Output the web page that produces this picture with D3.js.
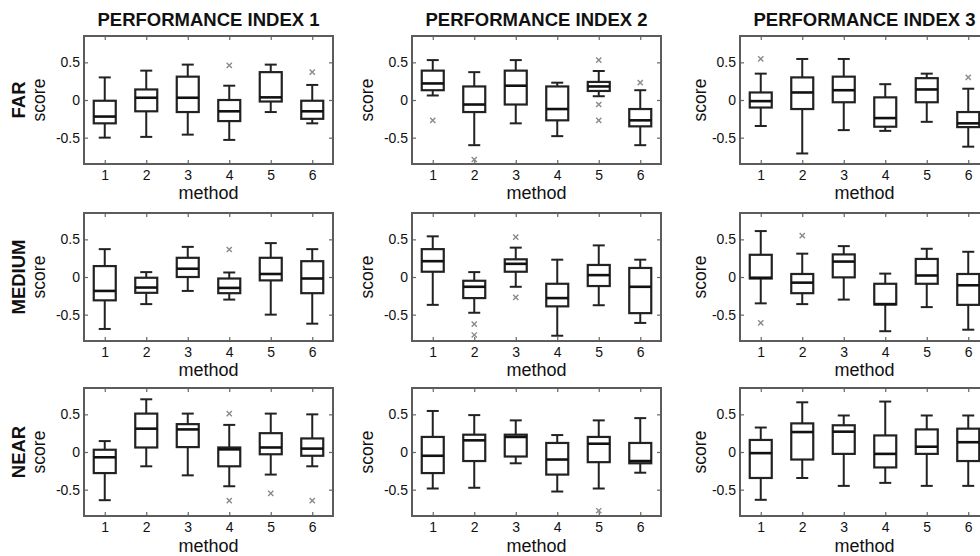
<!DOCTYPE html>
<html>
<head>
<meta charset="utf-8">
<script src="https://cdn.jsdelivr.net/npm/d3@7/dist/d3.min.js"></script>
<style>
  html, body { margin: 0; padding: 0; background: #fff; }
  svg { display: block; font-family: "Liberation Sans", Arial, Helvetica, sans-serif; }
</style>
</head>
<body>
<svg id="chart" width="980" height="556"></svg>
<script>
// ---------- DATA ----------
const methods = [1, 2, 3, 4, 5, 6];
const rowLabels = ["FAR", "MEDIUM", "NEAR"];
const colTitles = ["PERFORMANCE INDEX 1", "PERFORMANCE INDEX 2", "PERFORMANCE INDEX 3"];
const yTicks = [-0.5, 0, 0.5];

// each entry: [lower whisker, q1, median, q3, upper whisker] per method
const farPI1 = [[-0.50,-0.31,-0.22,-0.01,0.30],[-0.49,-0.15,0.03,0.14,0.39],[-0.46,-0.16,0.03,0.31,0.47],[-0.53,-0.28,-0.15,0.00,0.19],[-0.16,-0.02,0.035,0.37,0.47],[-0.31,-0.25,-0.15,-0.01,0.20]];
const farPI2 = [[0.06,0.13,0.22,0.39,0.53],[-0.60,-0.16,-0.06,0.18,0.37],[-0.31,-0.06,0.19,0.39,0.53],[-0.48,-0.27,-0.12,0.18,0.23],[0.05,0.12,0.18,0.24,0.385],[-0.60,-0.35,-0.27,-0.12,0.13]];
const farPI3 = [[-0.345,-0.10,-0.015,0.10,0.35],[-0.71,-0.12,0.10,0.30,0.545],[-0.40,-0.03,0.13,0.31,0.545],[-0.41,-0.355,-0.24,0.035,0.21],[-0.29,-0.03,0.14,0.29,0.35],[-0.62,-0.36,-0.31,-0.16,0.15]];
const medPI1 = [[-0.69,-0.31,-0.185,0.145,0.37],[-0.36,-0.21,-0.14,-0.01,0.065],[-0.185,0.0,0.11,0.255,0.40],[-0.30,-0.215,-0.145,-0.02,0.06],[-0.50,-0.045,0.04,0.255,0.45],[-0.62,-0.215,-0.02,0.21,0.37]];
const medPI2 = [[-0.37,0.07,0.21,0.37,0.54],[-0.475,-0.28,-0.13,-0.05,0.065],[-0.13,0.07,0.175,0.235,0.39],[-0.78,-0.39,-0.28,-0.09,0.23],[-0.375,-0.12,0.025,0.16,0.42],[-0.61,-0.48,-0.13,0.12,0.23]];
const medPI3 = [[-0.35,-0.02,-0.01,0.295,0.61],[-0.36,-0.215,-0.075,0.04,0.31],[-0.30,-0.005,0.205,0.30,0.41],[-0.72,-0.365,-0.36,-0.09,0.045],[-0.40,-0.09,0.02,0.24,0.375],[-0.70,-0.37,-0.11,0.04,0.335]];
const nearPI1 = [[-0.64,-0.28,-0.07,0.03,0.145],[-0.19,0.06,0.31,0.51,0.70],[-0.31,0.065,0.30,0.37,0.51],[-0.455,-0.19,0.035,0.06,0.36],[-0.30,-0.03,0.06,0.25,0.51],[-0.19,-0.05,0.045,0.18,0.50]];
const nearPI2 = [[-0.485,-0.28,-0.05,0.20,0.545],[-0.475,-0.12,0.155,0.23,0.49],[-0.15,-0.06,0.20,0.23,0.42],[-0.525,-0.30,-0.10,0.12,0.225],[-0.485,-0.135,0.11,0.20,0.42],[-0.275,-0.15,-0.12,0.12,0.45]];
const nearPI3 = [[-0.635,-0.345,-0.015,0.16,0.325],[-0.345,-0.10,0.265,0.38,0.66],[-0.45,-0.025,0.27,0.355,0.485],[-0.41,-0.205,-0.025,0.22,0.67],[-0.45,-0.025,0.07,0.30,0.485],[-0.45,-0.12,0.13,0.31,0.485]];

// outliers per method
const farPI1Out = [[],[],[],[0.46],[],[0.37]];
const farPI2Out = [[-0.27],[-0.79],[],[],[0.53,-0.06,-0.27],[0.23]];
const farPI3Out = [[0.545],[],[],[],[],[0.30]];
const medPI1Out = [[],[],[],[0.365],[],[]];
const medPI2Out = [[],[-0.625,-0.77],[0.53,-0.27],[],[],[]];
const medPI3Out = [[-0.61],[0.55],[],[],[],[]];
const nearPI1Out = [[],[],[],[0.51,-0.645],[-0.55],[-0.645]];
const nearPI2Out = [[],[],[],[],[-0.78],[]];
const nearPI3Out = [[],[],[],[],[],[]];

const stats = [[farPI1, farPI2, farPI3],[medPI1, medPI2, medPI3],[nearPI1, nearPI2, nearPI3]];
const outliers = [[farPI1Out, farPI2Out, farPI3Out],[medPI1Out, medPI2Out, medPI3Out],[nearPI1Out, nearPI2Out, nearPI3Out]];

// ---------- LAYOUT ----------
const colLeft = [84, 412, 740];
const rowTop = [36, 213, 388];
const xlabelOffset = [35, 35, 36];
const plotW = 249, plotH = 128;
const ylabelOffset = [39, 39.5, 34.5];
const boxW = 22, capW = 12;

const svg = d3.select("#chart");
svg.append("rect").attr("width", 980).attr("height", 556).attr("fill", "#fff");

const x = d3.scaleLinear().domain([0.5, 6.5]).range([0, plotW]);
const y = d3.scaleLinear().domain([-0.85, 0.85]).range([plotH, 0]);
const fmt = d => d === 0 ? "0" : String(d);

for (let r = 0; r < 3; r++) {
  for (let c = 0; c < 3; c++) {
    const g = svg.append("g").attr("transform", `translate(${colLeft[c]},${rowTop[r]})`);

    // axes with inward ticks
    const axB = g.append("g").attr("transform", `translate(0,${plotH})`)
      .call(d3.axisBottom(x).tickValues(methods).tickSizeInner(-4).tickSizeOuter(0).tickPadding(6).tickFormat(d3.format("d")));
    const axT = g.append("g")
      .call(d3.axisTop(x).tickValues(methods).tickSizeInner(-4).tickSizeOuter(0).tickFormat(""));
    const axL = g.append("g")
      .call(d3.axisLeft(y).tickValues(yTicks).tickSizeInner(-4).tickSizeOuter(0).tickPadding(4).tickFormat(fmt));
    const axR = g.append("g").attr("transform", `translate(${plotW},0)`)
      .call(d3.axisRight(y).tickValues(yTicks).tickSizeInner(-4).tickSizeOuter(0).tickFormat(""));
    [axB, axT, axL, axR].forEach(a => {
      a.select(".domain").remove();
      a.selectAll(".tick line").attr("stroke", "#666").attr("stroke-width", 1.2);
      a.selectAll("text").attr("font-size", 14).attr("fill", "#111")
        .attr("font-family", '"Liberation Sans", Arial, sans-serif');
    });

    // frame
    g.append("rect").attr("x", 0).attr("y", 0).attr("width", plotW).attr("height", plotH)
      .attr("fill", "none").attr("stroke", "#5c5c5c").attr("stroke-width", 2);

    const data = stats[r][c];
    const outs = outliers[r][c];
    const items = g.selectAll(".bx").data(data).enter().append("g").attr("class", "bx")
      .attr("transform", (d, i) => `translate(${x(methods[i])},0)`);

    const stroke = "#222";
    // whiskers
    items.append("line").attr("x1", 0).attr("x2", 0).attr("y1", d => y(d[3])).attr("y2", d => y(d[4]))
      .attr("stroke", stroke).attr("stroke-width", 2);
    items.append("line").attr("x1", 0).attr("x2", 0).attr("y1", d => y(d[0])).attr("y2", d => y(d[1]))
      .attr("stroke", stroke).attr("stroke-width", 2);
    // caps
    items.append("line").attr("x1", -capW / 2).attr("x2", capW / 2).attr("y1", d => y(d[4])).attr("y2", d => y(d[4]))
      .attr("stroke", stroke).attr("stroke-width", 2);
    items.append("line").attr("x1", -capW / 2).attr("x2", capW / 2).attr("y1", d => y(d[0])).attr("y2", d => y(d[0]))
      .attr("stroke", stroke).attr("stroke-width", 2);
    // box
    items.append("rect").attr("x", -boxW / 2).attr("width", boxW)
      .attr("y", d => y(d[3])).attr("height", d => y(d[1]) - y(d[3]))
      .attr("fill", "#fff").attr("stroke", stroke).attr("stroke-width", 2.2);
    // median
    items.append("line").attr("x1", -boxW / 2).attr("x2", boxW / 2).attr("y1", d => y(d[2])).attr("y2", d => y(d[2]))
      .attr("stroke", "#111").attr("stroke-width", 2.6);

    // outliers
    items.each(function (d, i) {
      const sel = d3.select(this);
      outs[i].forEach(v => {
        const cy = y(v), s = 2.6;
        sel.append("path").attr("d", `M${-s},${cy - s}L${s},${cy + s}M${-s},${cy + s}L${s},${cy - s}`)
          .attr("stroke", "#8a8a8a").attr("stroke-width", 1.4).attr("fill", "none");
      });
    });

    // x label
    g.append("text").attr("x", plotW / 2).attr("y", plotH + xlabelOffset[r]).attr("text-anchor", "middle")
      .attr("font-size", 18).attr("fill", "#111").text("method");

    // y label
    g.append("text").attr("transform", `translate(${-ylabelOffset[c]},${plotH / 2}) rotate(-90)`)
      .attr("text-anchor", "middle").attr("font-size", 17.5).attr("fill", "#111").text("score");

    if (c === 0) {
      g.append("text").attr("transform", `translate(-59,${plotH / 2}) rotate(-90)`)
        .attr("text-anchor", "middle").attr("font-size", 18.5).attr("font-weight", "bold")
        .attr("fill", "#111").text(rowLabels[r]);
    }
    if (r === 0) {
      g.append("text").attr("x", plotW / 2).attr("y", 26 - rowTop[0]).attr("text-anchor", "middle")
        .attr("font-size", 18.5).attr("font-weight", "bold").attr("fill", "#111").text(colTitles[c]);
    }
  }
}
</script>
</body>
</html>
